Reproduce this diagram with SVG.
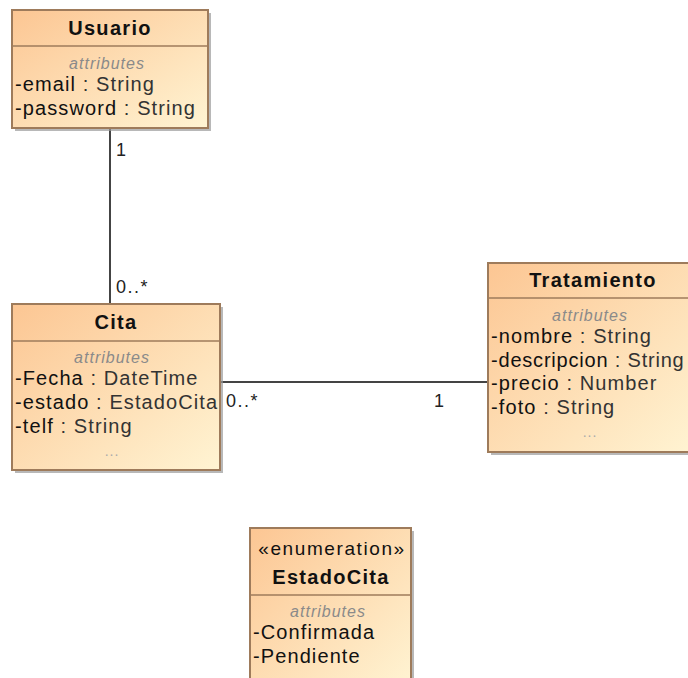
<svg xmlns="http://www.w3.org/2000/svg" width="688" height="678" viewBox="0 0 688 678">
  <defs>
    <linearGradient id="classFill" x1="0" y1="0" x2="1" y2="1">
      <stop offset="0" stop-color="#FCC693"/>
      <stop offset="1" stop-color="#FFF4D3"/>
    </linearGradient>
    <style>
      .shadow { fill: #9a9a9a; opacity: 0.7; }
      .box { fill: url(#classFill); stroke: #9E7B5B; stroke-width: 2; }
      .div { stroke: #9E7B5B; stroke-width: 1.5; }
      .title { font-family: "Liberation Sans", Arial, sans-serif; font-size: 20px; font-weight: bold; fill: #111; text-anchor: middle; letter-spacing: 1.3px; }
      .stereo { font-family: "Liberation Sans", Arial, sans-serif; font-size: 19px; fill: #111; text-anchor: middle; letter-spacing: 1.6px; }
      .comp { font-family: "Liberation Sans", Arial, sans-serif; font-size: 16px; font-style: italic; fill: #8a8a8a; text-anchor: middle; letter-spacing: 1px; }
      .attr { font-family: "Liberation Sans", Arial, sans-serif; font-size: 20px; fill: #111; letter-spacing: 1.1px; }
      .tight { letter-spacing: 0.8px; }
      .type { fill: #333; }
      .more { font-family: "Liberation Sans", Arial, sans-serif; font-size: 14px; fill: #aaa; text-anchor: middle; letter-spacing: 1px; }
      .edge { stroke: #444; stroke-width: 2; fill: none; }
      .mult { font-family: "Liberation Sans", Arial, sans-serif; font-size: 18px; fill: #222; letter-spacing: 1.5px; }
    </style>
  </defs>

  <!-- associations -->
  <g id="connectors">
    <line class="edge" x1="110" y1="129" x2="110" y2="305"/>
    <line class="edge" x1="220" y1="382" x2="489" y2="382"/>
    <text class="mult" x="116" y="156">1</text>
    <text class="mult" x="116" y="293">0..*</text>
    <text class="mult" x="226" y="407">0..*</text>
    <text class="mult" x="434" y="407">1</text>
  </g>

  <g id="Usuario">
    <rect class="shadow" x="15" y="13" width="196" height="118"/>
    <rect class="box" x="12" y="10" width="196" height="118"/>
    <line class="div" x1="12" y1="46" x2="208" y2="46"/>
    <text class="title" x="110" y="35">Usuario</text>
    <text class="comp" x="107" y="69">attributes</text>
    <text class="attr" x="15" y="91">-email <tspan class="type">: String</tspan></text>
    <text class="attr" x="15" y="115">-password <tspan class="type">: String</tspan></text>
  </g>

  <g id="Cita">
    <rect class="shadow" x="15" y="307" width="208" height="166"/>
    <rect class="box" x="12" y="304" width="208" height="166"/>
    <line class="div" x1="12" y1="341" x2="220" y2="341"/>
    <text class="title" x="116" y="329">Cita</text>
    <text class="comp" x="112" y="363">attributes</text>
    <text class="attr" x="15" y="385">-Fecha <tspan class="type">: DateTime</tspan></text>
    <text class="attr" x="15" y="409">-estado <tspan class="type">: EstadoCita</tspan></text>
    <text class="attr" x="15" y="433">-telf <tspan class="type">: String</tspan></text>
    <text class="more" x="112" y="456">...</text>
  </g>

  <g id="Tratamiento">
    <rect class="shadow" x="491" y="266" width="210" height="189"/>
    <rect class="box" x="488" y="263" width="210" height="189"/>
    <line class="div" x1="488" y1="298" x2="698" y2="298"/>
    <text class="title" x="593" y="287">Tratamiento</text>
    <text class="comp" x="590" y="321">attributes</text>
    <text class="attr" x="491" y="343">-nombre <tspan class="type">: String</tspan></text>
    <text class="attr tight" x="491" y="367">-descripcion <tspan class="type">: String</tspan></text>
    <text class="attr" x="491" y="390">-precio <tspan class="type">: Number</tspan></text>
    <text class="attr" x="491" y="414">-foto <tspan class="type">: String</tspan></text>
    <text class="more" x="590" y="437">...</text>
  </g>

  <g id="EstadoCita">
    <rect class="shadow" x="253" y="531" width="161" height="160"/>
    <rect class="box" x="250" y="528" width="161" height="160"/>
    <line class="div" x1="250" y1="595" x2="411" y2="595"/>
    <text class="stereo" x="332" y="555">«enumeration»</text>
    <text class="title" x="331" y="584">EstadoCita</text>
    <text class="comp" x="328" y="617">attributes</text>
    <text class="attr" x="253" y="639">-Confirmada</text>
    <text class="attr" x="253" y="663">-Pendiente</text>
  </g>
</svg>
